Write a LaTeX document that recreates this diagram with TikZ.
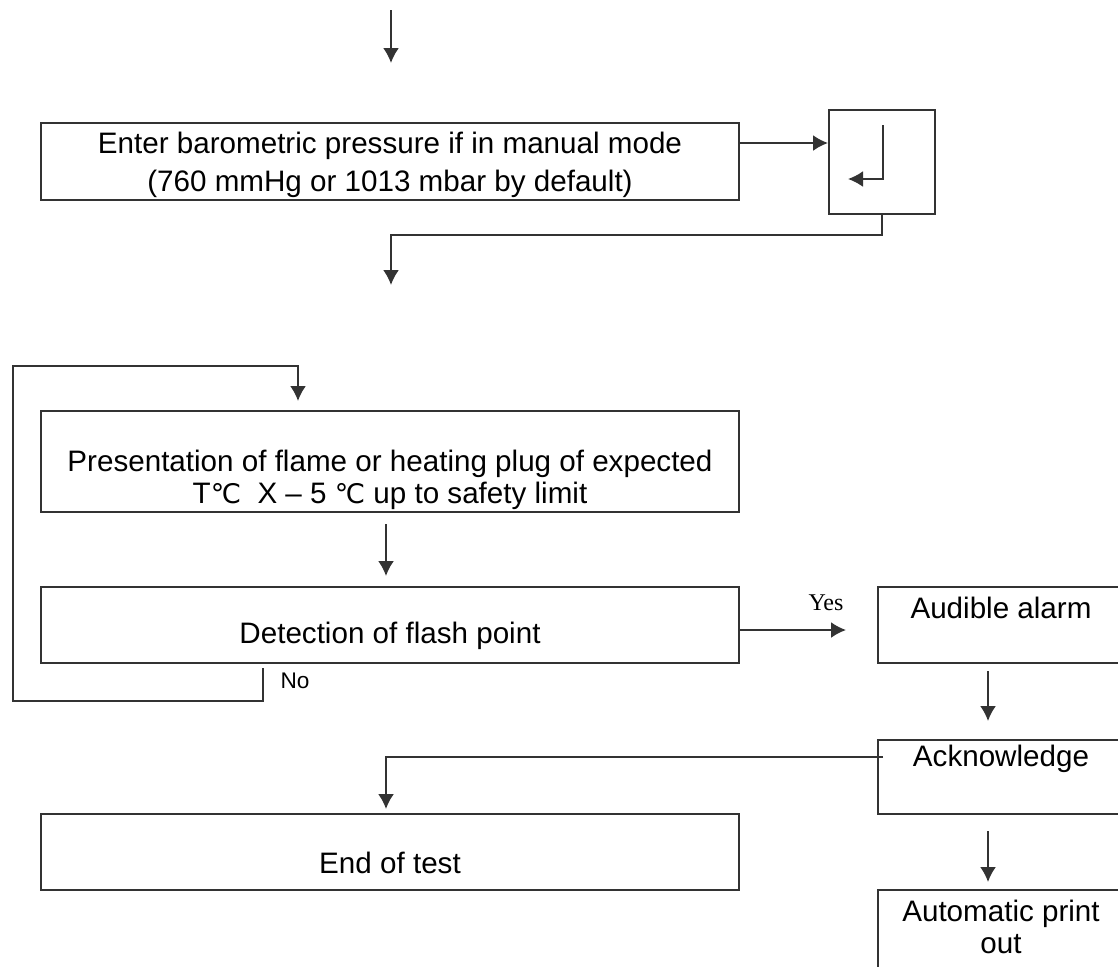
\documentclass[tikz,border=0pt]{standalone}
\usepackage{fontspec}
\setmainfont{Liberation Sans}
\newfontfamily\yesfont{Liberation Serif}
\newfontfamily\degfont{DejaVu Sans}
\newcommand\degc{{\degfont\fontsize{13.5}{16}\selectfont ℃}}
\usetikzlibrary{arrows.meta}
\tikzset{
  box/.style={draw=black!80, line width=1pt, minimum width=349pt, minimum height=38pt, inner sep=0pt},
  sidebox/.style={draw=black!80, line width=1pt, minimum width=125pt, minimum height=38pt, inner sep=0pt},
  keybox/.style={draw=black!80, line width=1pt, minimum width=53pt, minimum height=52pt, inner sep=0pt},
  link/.style={draw=black!80, line width=1pt},
  flow/.style={link, -{Latex[length=7.5pt,width=8pt]}},
  txt/.style={font=\fontsize{14.8}{16}\selectfont, align=center, inner sep=0pt},
  small/.style={font=\fontsize{11.3}{13}\selectfont, inner sep=0pt}
}
\begin{document}
\begin{tikzpicture}[x=0.5pt,y=-0.5pt]
\useasboundingbox (0,0) rectangle (1118,966);
\clip (0,0) rectangle (1118,966);
% boxes
\node[box, minimum height=38.5pt] (pressure) at (390,161.5) {};
\node[keybox] (enter) at (882,162) {};
\node[box, minimum height=50.5pt] (present) at (390,461.5) {};
\node[box] (detect) at (390,625) {};
\node[sidebox] (alarm) at (1003,625) {};
\node[sidebox, minimum height=37pt] (ack) at (1003,777) {};
\node[box] (endtest) at (390,852) {};
\node[sidebox, minimum height=40pt] (print) at (1003,930) {};
% texts
\node[txt] (pressuretxt) at (390,165) {Enter barometric pressure if in manual mode\\[3pt](760 mmHg or 1013 mbar by default)};
\node[txt] (presenttxt) at (390,480) {Presentation of flame or heating plug of expected\\T\degc\ \ X -- 5 \degc\ up to safety limit};
\node[txt] (detecttxt) at (390,636) {Detection of flash point};
\node[txt] (alarmtxt) at (1001,608) {Audible alarm};
\node[txt] (acktxt) at (1001,759) {Acknowledge};
\node[txt] (endtxt) at (390,863) {End of test};
\node[txt] (printtxt) at (1001,927) {Automatic print\\out};
\node[small, font=\yesfont\fontsize{12}{13}\selectfont] (yes) at (826,603) {Yes};
\node[small] (no) at (295,681) {No};
% free ends
\coordinate (start) at (391,10);
\coordinate (startend) at (391,63);
\coordinate (row1) at (0,143);
\coordinate (keytop) at (883,125);
\coordinate (keyend) at (848,179);
\coordinate (nextend) at (391,285);
\coordinate (noout) at (263,668);
\coordinate (loopleft) at (13,701);
\coordinate (looptop) at (298,366);
\coordinate (row2) at (0,630);
\coordinate (row3) at (0,757);
% connectors
\draw[flow] (start) -- (startend);
\draw[flow] (pressure.east |- row1) -- (enter.west |- row1);
\draw[flow] (keytop) |- (keyend);
\draw[flow] (enter.south) -- ++(0,20) -| (nextend);
\draw[flow, shorten >=4.5pt] (noout) |- (loopleft) |- (looptop) -- (present.north -| looptop);
\draw[flow, shorten <=5.5pt, shorten >=5pt] ([xshift=-2pt]present.south) -- ([xshift=-2pt]detect.north);
\draw[flow, shorten >=15.5pt] (detect.east |- row2) -- (alarm.west |- row2);
\draw[flow, shorten <=3.5pt, shorten >=9pt] ([xshift=-7.5pt]alarm.south) -- ([xshift=-7.5pt]ack.north);
\draw[flow, shorten >=2pt] ([xshift=3pt]ack.west |- row3) -| ([xshift=-2pt]endtest.north);
\draw[flow, shorten <=8pt, shorten >=3.5pt] ([xshift=-7.5pt]ack.south) -- ([xshift=-7.5pt]print.north);
\end{tikzpicture}
\end{document}
